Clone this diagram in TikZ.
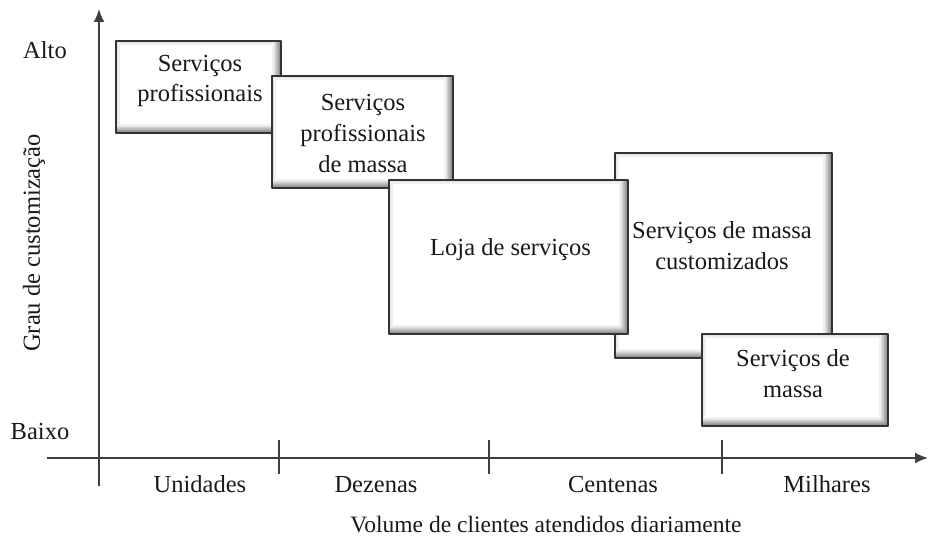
\documentclass[tikz,border=0pt]{standalone}
\usepackage{fontspec}
\setmainfont{Liberation Serif}
\usetikzlibrary{arrows.meta,positioning}

\begin{document}
\begin{tikzpicture}[x=1pt,y=-1pt,>={Latex[length=13pt,width=11pt]},line join=round,
	every node/.style={font=\fontsize{24.5}{31}\selectfont,text=black!90},
	caixa/.style={draw=black!80,line width=1.6pt,fill=white,inner sep=0pt,
		path picture={
			\foreach \d/\c in {1/48,2/42,3/36,4/30,5/24,6/18,7/12,8/6}{
				\draw[black!\c,line width=1.05pt] ([yshift=\d pt]path picture bounding box.south west) -- ([xshift=-\d pt,yshift=\d pt]path picture bounding box.south east);
				\draw[black!\c,line width=1.05pt] ([xshift=-\d pt]path picture bounding box.north east) -- ([xshift=-\d pt,yshift=\d pt]path picture bounding box.south east);
			}
			\foreach \d/\c in {1/16,2/11,3/6}{
				\draw[black!\c,line width=1.05pt] ([yshift=-\d pt]path picture bounding box.north west) -- ([xshift=-9pt,yshift=-\d pt]path picture bounding box.north east);
				\draw[black!\c,line width=1.05pt] ([xshift=\d pt]path picture bounding box.north west) -- ([xshift=\d pt,yshift=9pt]path picture bounding box.south west);
			}
		}},
	texto/.style={align=center,inner sep=0pt},
	rotulo/.style={anchor=base,inner sep=0pt},
	eixo/.style={draw=black!75,line width=1.8pt}]
	\useasboundingbox (0,0) rectangle (929,537);
	% eixos
	\coordinate (ybase) at (99,486);
	\coordinate (ytopo) at (99,9);
	\coordinate (xbase) at (47,458);
	\coordinate (xtopo) at (928,458);
	\draw[eixo,->] (ybase) -- (ytopo);
	\draw[eixo,->] (xbase) -- (xtopo);
	\foreach \x in {279,489,722}{
		\draw[eixo,line width=1.4pt] (\x,440) -- (\x,474);
	}
	% caixas
	\node[caixa,minimum width=165pt,minimum height=92pt] (prof) at (198.5,87) {};
	\node[texto] (prof-t) at (200,81) {Serviços\\profissionais};
	\node[caixa,minimum width=181pt,minimum height=112pt] (profmassa) at (362.5,132) {};
	\node[texto] (profmassa-t) at (363,134) {Serviços\\profissionais\\de massa};
	\node[caixa,minimum width=217pt,minimum height=205pt] (massacust) at (723.5,255.5) {};
	\node[texto] (massacust-t) at (722,246) {Serviços de massa\\customizados};
	\node[caixa,minimum width=239pt,minimum height=154pt] (loja) at (508.5,257) {};
	\node[texto] (loja-t) at (510.5,250) {Loja de serviços};
	\node[caixa,minimum width=186pt,minimum height=92pt] (massa) at (795,380) {};
	\node[texto] (massa-t) at (793,374) {Serviços de\\massa};
	% rótulos
	\node[rotulo] (alto) at (45,59) {Alto};
	\node[rotulo] (baixo) at (40,439) {Baixo};
	\node[inner sep=0pt,rotate=90] (grau) at (34,243) {Grau de customização};
	\node[rotulo] (unid) at (200,492) {Unidades};
	\node[rotulo] (dez) at (376,492) {Dezenas};
	\node[rotulo] (cent) at (613,492) {Centenas};
	\node[rotulo] (milh) at (827,492) {Milhares};
	\node[rotulo,font=\fontsize{23.5}{28}\selectfont] (volume) at (546,532) {Volume de clientes atendidos diariamente};
\end{tikzpicture}
\end{document}
